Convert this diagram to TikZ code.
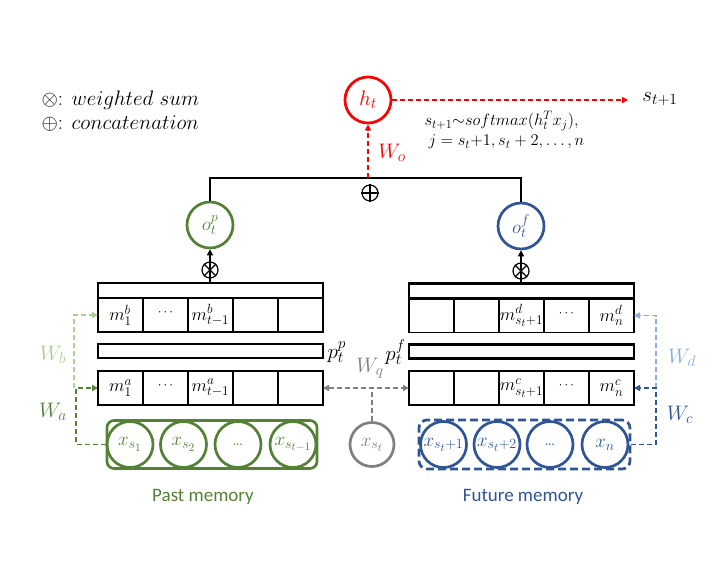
\RequirePackage{fix-cm}
\documentclass[tikz,border=0pt]{standalone}
\usepackage{fontspec}
\newfontfamily\carlito{Carlito}
\usetikzlibrary{arrows.meta,calc}
\renewcommand\defaultscriptratio{.74}
\renewcommand\defaultscriptscriptratio{.6}
\definecolor{pgreen}{RGB}{84,130,53}
\definecolor{lgreen}{RGB}{169,208,142}
\definecolor{pblue}{RGB}{47,85,151}
\definecolor{lblue}{RGB}{143,170,220}
\definecolor{pgray}{RGB}{128,128,128}
\definecolor{pred}{RGB}{255,0,0}
\newcommand{\cdd}{{\fontsize{13}{13}\selectfont\raisebox{4pt}{$\cdots$}}}
\begin{document}
\begin{tikzpicture}[x=1pt,y=-1pt,
  every node/.style={font=\fontsize{21}{24}\selectfont},
  cell/.style={draw, line width=1.3pt, minimum width=45pt, minimum height=34pt, inner sep=0pt, outer sep=0pt, font=\fontsize{18}{20}\selectfont},
  bar/.style={draw, line width=2.8pt, inner sep=0pt, outer sep=0pt, minimum width=225pt},
  mcirc/.style={circle, draw, line width=2.7pt, minimum size=46pt, inner sep=0pt, font=\fontsize{19}{21}\selectfont},
  opsym/.style={circle, draw, line width=1.2pt, minimum size=16pt, inner sep=0pt},
  dsh/.style={dash pattern=on 5pt off 3pt, line width=1.6pt},
  tip/.style={-{Triangle[length=6pt,width=6pt]}},
  thickline/.style={line width=2.8pt}
]
\useasboundingbox (0,0) rectangle (720,577);

% legend
\node[anchor=west] (leg1) at (38,100) {$\otimes$: $weighted\ sum$};
\node[anchor=west] (leg2) at (38,123) {$\oplus$: $concatenation$};

% output
\node[mcirc, draw=pred, text=pred, font=\fontsize{21}{23}\selectfont] (h) at (368,100) {$h_t$};
\coordinate (send) at (628,100);
\draw[dsh, pred, tip] (h.east) -- (send);
\node (snext) at (660,99) {$s_{t+1}$};
\node[anchor=west, font=\fontsize{16.5}{18}\selectfont] (f1) at (421,121) {$s_{t+1}{\sim}softmax\bigl(h_t^T x_j\bigr),$};
\node[anchor=west, font=\fontsize{16.5}{18}\selectfont] (f2) at (425,142) {$j = s_t{+}1, s_t + 2, \ldots, n$};
\node[text=pred] (wo) at (392,153) {$W_o$};

% o circles
\node[mcirc, draw=pgreen, text=pgreen] (op) at (210,225) {$o_t^p$};
\node[mcirc, draw=pblue, text=pblue] (of) at (521,226) {$o_t^f$};
\coordinate (ctop) at (368,178);
\draw[thickline] (op.north) |- (ctop) -| (of.north);
\draw[dsh, pred, tip] (ctop) -- (h.south);
\node[opsym] (cs) at (370,193) {};
\draw[line width=1.2pt] (cs.north) -- (cs.south) (cs.west) -- (cs.east);

% left memory block
\node[bar, minimum height=15pt] (ltop) at (210.5,290.5) {};
\foreach \i/\t in {1/$m_1^b$, 2/\cdd, 3/$m_{t-1}^b$, 4/, 5/}
  \node[cell] (lb\i) at ({120.5+45*(\i-1)},315) {\t};
\node[bar, minimum height=14pt] (lp) at (210.5,351) {};
\node[anchor=west, font=\fontsize{21}{24}\selectfont] (lpl) at (324,352) {$p_t^p$};
\foreach \i/\t in {1/$m_1^a$, 2/\cdd, 3/$m_{t-1}^a$, 4/, 5/}
  \node[cell] (la\i) at ({120.5+45*(\i-1)},388) {\t};

% right memory block
\node[bar, minimum height=15pt] (rtop) at (521.5,291) {};
\foreach \i/\t in {1/, 2/, 3/$m_{s_t+1}^d$, 4/\cdd, 5/$m_n^d$}
  \node[cell] (rd\i) at ({431.5+45*(\i-1)},315.5) {\t};
\node[bar, minimum height=14pt] (rp) at (521.5,351.5) {};
\node[anchor=east, font=\fontsize{21}{24}\selectfont] (rpl) at (409,352) {$p_t^f$};
\foreach \i/\t in {1/, 2/, 3/$m_{s_t+1}^c$, 4/\cdd, 5/$m_n^c$}
  \node[cell] (rc\i) at ({431.5+45*(\i-1)},388) {\t};

% weighted sums
\draw[thickline, tip] (ltop.north -| op.south) -- (op.south);
\draw[thickline, tip] (rtop.north -| of.south) -- (of.south);
\node[opsym] (wl) at (210,270) {};
\draw[line width=1.2pt] (wl.north east) -- (wl.south west) (wl.north west) -- (wl.south east);
\node[opsym] (wr) at (521,271) {};
\draw[line width=1.2pt] (wr.north east) -- (wr.south west) (wr.north west) -- (wr.south east);

% past memory
\node[draw=pgreen, line width=2.7pt, rounded corners=7pt, minimum width=210pt, minimum height=48pt, inner sep=0pt] (pastbox) at (212,444.5) {};
\foreach \i/\x/\t in {1/130/$x_{s_1}$, 2/183.5/$x_{s_2}$, 3/238/\ldots, 4/293/$x_{s_{t-1}}$}
  \node[mcirc, draw=pgreen, text=pgreen] (xp\i) at (\x,444.5) {\t};
\node[text=pgreen, font=\carlito\fontsize{19}{21}\selectfont] (pastlbl) at (203,497) {Past memory};

% future memory
\node[draw=pblue, line width=2.7pt, dash pattern=on 8pt off 4pt, rounded corners=8pt, minimum width=211pt, minimum height=49pt, inner sep=0pt] (futbox) at (524.5,444.5) {};
\foreach \i/\x/\t in {1/443.5/$x_{s_t+1}$, 2/497/$x_{s_t+2}$, 3/550/\ldots, 4/605/$x_n$}
  \node[mcirc, draw=pblue, text=pblue] (xf\i) at (\x,444.5) {\t};
\node[text=pblue, font=\carlito\fontsize{19}{21}\selectfont] (futlbl) at (523,497) {Future memory};

% query
\node[mcirc, draw=pgray, text=pgray, minimum size=44pt] (xst) at (372,444.5) {$x_{s_t}$};
\coordinate (gq) at (372,388);
\draw[dsh, pgray, {Triangle[length=6pt,width=6pt]}-{Triangle[length=6pt,width=6pt]}] (la5.east) -- (rc1.west);
\draw[dsh, pgray] (xst.north) -- (gq);
\node[text=pgray] (wq) at (370,368) {$W_q$};

% green connectors
\coordinate (ga) at (76,388);
\coordinate (gb) at (74,388);
\draw[dsh, lgreen, tip] (gb) |- (lb1.west);
\draw[dsh, pgreen, tip] (pastbox.west) -| (ga) -- (la1.west);
\node[text=lgreen] (wb) at (53,355) {$W_b$};
\node[text=pgreen] (wa) at (53,412) {$W_a$};

% blue connectors
\coordinate (bc) at (656,388);
\draw[dsh, lblue, tip] (bc) |- (rd5.east);
\draw[dsh, pblue, tip] (futbox.east) -| (bc) -- (rc5.east);
\node[text=lblue] (wd) at (682,358) {$W_d$};
\node[text=pblue] (wc) at (680,415) {$W_c$};
\end{tikzpicture}
\end{document}
